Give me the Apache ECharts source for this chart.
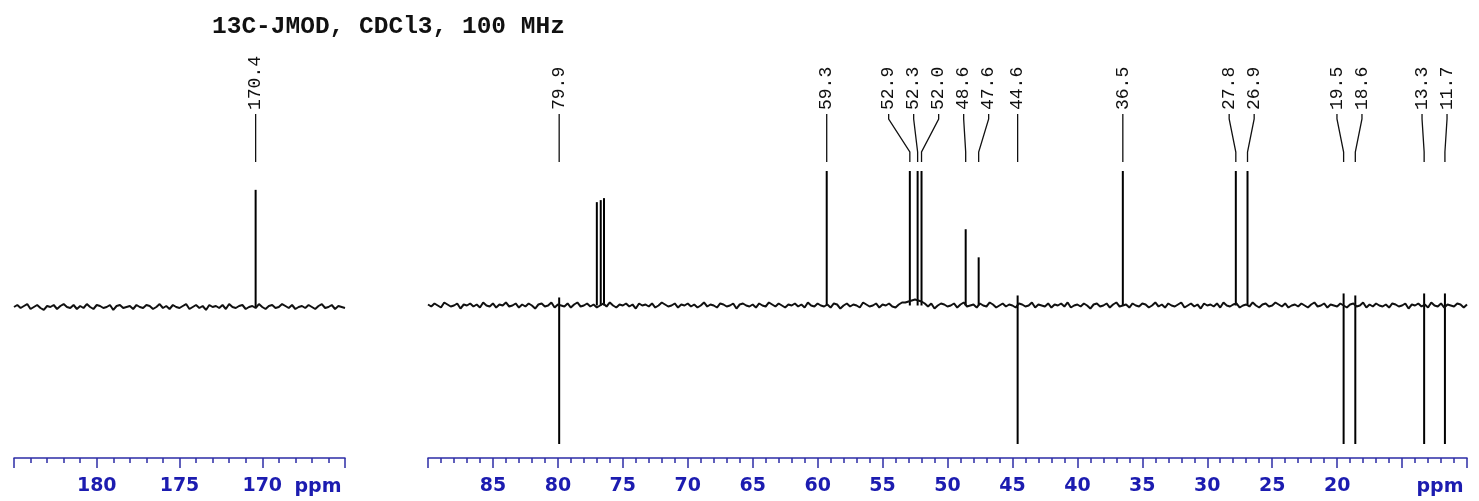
<!DOCTYPE html>
<html>
<head>
<meta charset="utf-8">
<script src="https://cdn.jsdelivr.net/npm/echarts@6/dist/echarts.min.js"></script>
<style>
    html, body { margin: 0; padding: 0; background: #fff; }
    #main { width: 1479px; height: 501px; }
</style>
</head>
<body>
<div id="main"></div>
<script>
// 标题
var titleText = '13C-JMOD, CDCl3, 100 MHz';

// 峰: 位置 (ppm), 上端, 下端 (基线 = 0)
var peakPpm    = [170.4, 79.9, 77.0, 76.7, 76.45, 59.3, 52.9, 52.3, 52.0, 48.6, 47.6, 44.6, 36.5, 27.8, 26.9, 19.5, 18.6, 13.3, 11.7];
var peakTop    = [118,   8,    103,  105,  107,   134,  134,  134,  134,  76,   48,   10,   134,  134,  134,  12,   10,   12,   12];
var peakBottom = [0,    -138,  0,    0,    0,     0,    0,    0,    0,    0,    0,   -138,  0,    0,    0,   -138, -138, -138, -138];

// 标注的化学位移
var labelPpm = [170.4, 79.9, 59.3, 52.9, 52.3, 52.0, 48.6, 47.6, 44.6, 36.5, 27.8, 26.9, 19.5, 18.6, 13.3, 11.7];

// 两段坐标范围
var leftRange = [165, 185];
var rightRange = [10, 90];
var tickStep = 5;
var hiddenTicks = [15];

// 基线噪声 (左: 185 -> 165, 每 0.2 ppm; 右: 90 -> 10, 每 0.25 ppm)
var leftStep = 0.2;
var noiseLeft = [
    0,2,-1,1,3,-2,0,2,-1,-3,1,0,2,-2,1,3,0,-1,2,-2,
    1,-1,3,0,-2,2,1,-1,0,2,-3,1,2,-1,0,1,-2,2,0,-1,
    2,1,-2,0,3,-1,1,-2,2,0,-1,1,3,-2,0,2,-1,1,-3,2,
    0,1,-1,2,-2,3,0,-1,1,2,-2,0,1,-1,3,0,-2,1,2,-1,
    0,3,1,-1,2,-2,0,1,-1,2,0,-2,1,3,-1,0,2,-2,1,0,
    -1
];
var rightStep = 0.25;
var noiseRight = [
    1,-1,2,0,-2,3,1,-1,0,2,-3,1,0,2,-1,1,-2,3,0,-1,
    2,-2,1,0,3,-1,0,2,-2,1,-1,2,0,-3,1,2,-1,0,3,-2,
    1,0,-1,2,-2,1,3,-1,0,2,-1,1,-2,0,2,-1,3,0,-2,1,
    0,2,-1,1,-3,2,0,1,-1,2,-2,0,3,1,-1,0,2,-2,1,0,
    2,-1,1,-2,0,3,-1,1,0,-2,2,1,-1,0,2,-3,1,2,0,-1,
    1,-2,2,0,-1,3,1,-1,2,0,-2,1,0,2,-1,1,-2,3,0,-1,
    2,0,-1,1,-2,2,1,-3,0,2,-1,1,0,-2,3,1,-1,0,2,-2,
    1,0,2,-1,-2,1,3,3,4,5,6,5,4,2,-1,2,-3,0,2,1,
    -1,0,2,-2,1,3,-1,0,1,-2,2,0,-1,3,1,-2,0,2,-1,1,
    0,-2,2,1,-1,0,3,-2,1,0,-1,2,-2,1,0,2,-1,3,-2,0,
    1,-1,2,0,-3,1,2,-1,0,2,-2,1,3,-1,0,1,-2,2,0,-1,
    2,1,-2,0,3,-1,1,-2,2,0,-1,1,3,-2,0,2,-1,1,-3,2,
    0,1,-1,2,-2,3,0,-1,1,2,-2,0,1,-1,3,0,-2,1,2,-1,
    0,3,1,-1,2,-2,0,1,-1,2,0,-2,1,3,-1,0,2,-2,1,0,
    -1,2,0,-2,1,2,-1,0,3,-2,1,-1,2,0,-1,1,-2,2,1,-1,
    0,2,-3,1,0,2,-1,1,-2,3,0,-1,2,-2,1,0,-1,2,1,-2,
    1
];

var axisColor = '#2d2da6';
var labelColor = '#1c1cb0';

function traceData(noise, start, step) {
    return noise.map(function (v, i) {
        return [+(start - i * step).toFixed(2), v];
    });
}

function peakData(range) {
    var out = [];
    for (var i = 0; i < peakPpm.length; i++) {
        if (peakPpm[i] >= range[0] && peakPpm[i] <= range[1]) {
            out.push([peakPpm[i], peakTop[i], peakBottom[i]]);
        }
    }
    return out;
}

function renderPeak(params, api) {
    var x = api.value(0);
    var p1 = api.coord([x, api.value(1)]);
    var p2 = api.coord([x, api.value(2)]);
    return {
        type: 'line',
        shape: { x1: p1[0], y1: p1[1], x2: p2[0], y2: p2[1] },
        style: { stroke: '#000', lineWidth: 2 }
    };
}

function xAxisOf(gridIndex, range) {
    return {
        type: 'value',
        gridIndex: gridIndex,
        position: 'bottom',
        inverse: true,
        min: range[0],
        max: range[1],
        interval: tickStep,
        offset: 12,
        axisLine: { show: true, onZero: false, lineStyle: { color: axisColor, width: 1.5 } },
        axisTick: { show: true, inside: false, length: 10, lineStyle: { color: axisColor, width: 1.5 } },
        minorTick: { show: true, splitNumber: 5, length: 5, lineStyle: { color: axisColor, width: 1.5 } },
        splitLine: { show: false },
        axisLabel: {
            showMinLabel: false,
            showMaxLabel: false,
            inside: false,
            color: labelColor,
            fontFamily: 'DejaVu Sans',
            fontWeight: 'bold',
            fontSize: 19,
            margin: 19,
            formatter: function (v) {
                return hiddenTicks.indexOf(v) > -1 ? '' : String(v);
            }
        }
    };
}

function yAxisOf(gridIndex) {
    return { type: 'value', gridIndex: gridIndex, min: -140, max: 140, show: false };
}

var myChart = echarts.init(document.getElementById('main'));

var option = {
    animation: false,
    backgroundColor: '#fff',
    title: {
        text: titleText,
        left: 207,
        top: 9,
        textStyle: { fontFamily: 'Liberation Mono', fontWeight: 'bold', fontSize: 24.5, color: '#111' }
    },
    grid: [
        { left: 14, width: 331, top: 168, height: 278 },
        { left: 428, width: 1039, top: 165, height: 281 }
    ],
    xAxis: [xAxisOf(0, leftRange), xAxisOf(1, rightRange)],
    yAxis: [yAxisOf(0), yAxisOf(1)],
    series: [
        {
            type: 'line', xAxisIndex: 0, yAxisIndex: 0, showSymbol: false,
            data: traceData(noiseLeft, leftRange[1], leftStep),
            lineStyle: { color: '#111', width: 2 }
        },
        {
            type: 'line', xAxisIndex: 1, yAxisIndex: 1, showSymbol: false,
            data: traceData(noiseRight, rightRange[1], rightStep),
            lineStyle: { color: '#111', width: 2 }
        },
        {
            type: 'custom', xAxisIndex: 0, yAxisIndex: 0,
            data: peakData(leftRange), encode: { x: 0, y: [1, 2] },
            renderItem: renderPeak
        },
        {
            type: 'custom', xAxisIndex: 1, yAxisIndex: 1,
            data: peakData(rightRange), encode: { x: 0, y: [1, 2] },
            renderItem: renderPeak
        }
    ]
};

myChart.setOption(option);

// 标注位置: 重叠的标签按 25px 间距展开
function spread(xs, gap) {
    var groups = xs.map(function (x) { return { start: x, n: 1, sum: x }; });
    var merged = true;
    while (merged) {
        merged = false;
        for (var i = 0; i < groups.length - 1; i++) {
            var a = groups[i], b = groups[i + 1];
            if (b.start - (a.start + (a.n - 1) * gap) < gap) {
                var n = a.n + b.n, sum = a.sum + b.sum;
                groups.splice(i, 2, { n: n, sum: sum, start: sum / n - (n - 1) * gap / 2 });
                merged = true;
                break;
            }
        }
    }
    var out = [];
    groups.forEach(function (g) {
        for (var k = 0; k < g.n; k++) out.push(g.start + k * gap);
    });
    return out;
}

var peakX = labelPpm.map(function (p) {
    var idx = p >= leftRange[0] ? 0 : 1;
    return myChart.convertToPixel({ xAxisIndex: idx }, p);
});
var labelX = spread(peakX, 25);

var graphics = [];
labelPpm.forEach(function (p, i) {
    var lx = labelX[i], px = peakX[i];
    graphics.push({
        type: 'text', x: lx, y: 110, rotation: Math.PI / 2,
        style: {
            text: p.toFixed(1), fill: '#111',
            font: '18px "Liberation Mono"',
            align: 'left', verticalAlign: 'middle'
        }
    });
    graphics.push({
        type: 'polyline',
        shape: { points: [[lx, 114], [lx, 119], [px, 152], [px, 162]] },
        style: { stroke: '#111', lineWidth: 1.3, fill: null }
    });
});
graphics.push({
    type: 'text', x: 318, y: 487,
    style: { text: 'ppm', fill: labelColor, font: 'bold 19px "DejaVu Sans"', align: 'center', verticalAlign: 'middle' }
});
graphics.push({
    type: 'text', x: 1440, y: 487,
    style: { text: 'ppm', fill: labelColor, font: 'bold 19px "DejaVu Sans"', align: 'center', verticalAlign: 'middle' }
});

myChart.setOption({ graphic: graphics });
</script>
</body>
</html>
